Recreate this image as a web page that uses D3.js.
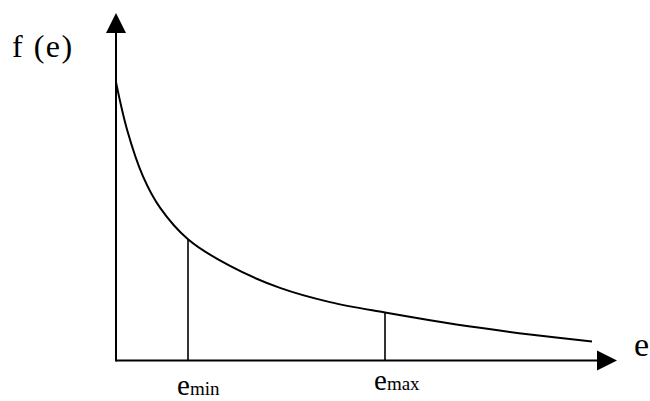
<!DOCTYPE html>
<html><head><meta charset="utf-8">
<script src="https://cdn.jsdelivr.net/npm/d3@7"></script>
<style>html,body{margin:0;padding:0;background:#fff;}svg{display:block;}
text{font-family:"Times New Roman",Times,"Liberation Serif","Noto Serif","DejaVu Serif",serif;}</style>
</head><body>
<script>
// curve f(e) (x: 0..100 along the e axis, y: 0..100 along f axis)
const curveE = [0, 2.2, 5.4, 8.8, 14.4, 22.8, 32.8, 42.8, 53.8, 62.8, 72.8, 82.8, 95.2];
const curveF = [80.1, 66.5, 53, 44, 34.9, 27.2, 20.9, 16.8, 13.8, 11.6, 9.4, 7.5, 5.5];
const markerNames = ["min", "max"];
const markerE = [14.4, 53.8];
const markerF = [34.9, 13.8];

const W = 650, H = 401;
const svg = d3.select("body").append("svg").attr("width", W).attr("height", H);
const x = d3.scaleLinear().domain([0, 100]).range([116, 616]);
const y = d3.scaleLinear().domain([0, 100]).range([360.5, 13]);

// axes
svg.append("line").attr("x1", x(0)).attr("x2", x(96.5)).attr("y1", y(0)).attr("y2", y(0))
  .attr("stroke", "#000").attr("stroke-width", 2);
svg.append("line").attr("x1", x(0)).attr("x2", x(0)).attr("y1", y(0)+1).attr("y2", y(95))
  .attr("stroke", "#000").attr("stroke-width", 2);
// arrowheads
const tipX = x(100.2), tipY = y(100);
svg.append("path").attr("d", `M${tipX},${y(0)} L${tipX-20},${y(0)-10} L${tipX-20},${y(0)+10} Z`).attr("fill", "#000");
svg.append("path").attr("d", `M${x(0)},${tipY} L${x(0)-10},${tipY+20} L${x(0)+10},${tipY+20} Z`).attr("fill", "#000");

// curve
const pts = curveE.map((e, i) => [e, curveF[i]]);
svg.append("path").datum(pts)
  .attr("d", d3.line().x(d => x(d[0])).y(d => y(d[1])).curve(d3.curveCatmullRom.alpha(0.5)))
  .attr("fill", "none").attr("stroke", "#000").attr("stroke-width", 2);

// markers
markerE.forEach((e, i) => {
  svg.append("line").attr("x1", x(e)).attr("x2", x(e)).attr("y1", y(0)).attr("y2", y(markerF[i]))
    .attr("stroke", "#000").attr("stroke-width", 1.6);
});

// labels
svg.append("text").attr("x", 12).attr("y", 57).attr("font-size", 32).attr("letter-spacing", 1.5)
  .attr("xml:space", "preserve").text("f (e)");
svg.append("text").attr("x", 634).attr("y", 356).attr("font-size", 34).text("e");
const baseY = [395, 390];
markerE.forEach((e, i) => {
  const t = svg.append("text").attr("x", x(e) - 11).attr("y", baseY[i]);
  t.append("tspan").attr("font-size", 29).text("e");
  t.append("tspan").attr("font-size", 19).text(markerNames[i]);
});
</script>
</body></html>
